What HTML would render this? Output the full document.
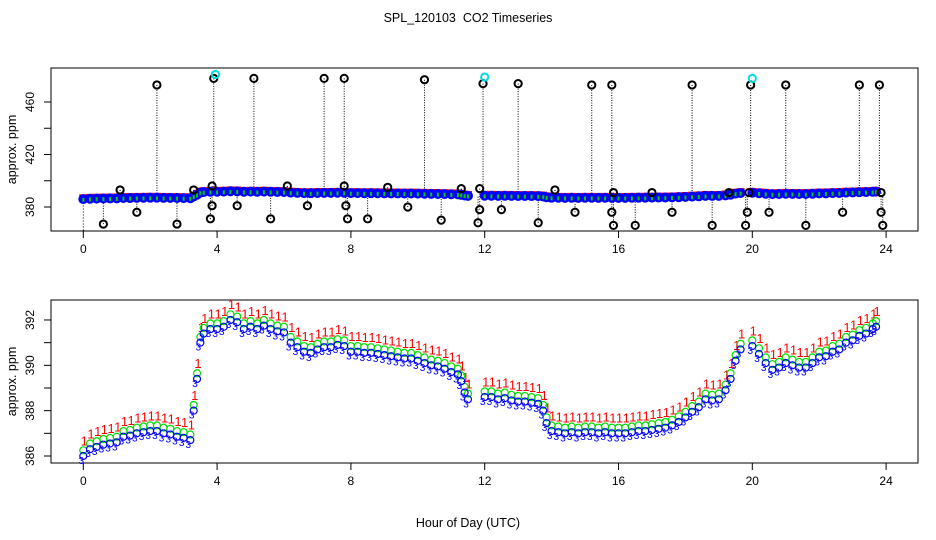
<!DOCTYPE html>
<html><head><meta charset="utf-8"><style>
html,body{margin:0;padding:0;background:#fff;}
svg{display:block;font-family:"Liberation Sans",sans-serif;}
text{white-space:pre;}
</style></head><body>
<svg id="c" width="936" height="540" viewBox="0 0 936 540">
<text x="468" y="22" text-anchor="middle" font-size="12.5" xml:space="preserve">SPL_120103  CO2 Timeseries</text>
<text x="468" y="527" text-anchor="middle" font-size="12.5">Hour of Day (UTC)</text>
<g id="topPanel"></g>
<g id="botPanel"></g>
</svg>
<script>
const times = [0,0.2,0.4,0.6,0.8,1.0,1.2,1.4,1.6,1.8,2.0,2.2,2.4,2.6,2.8,3.0,3.2,3.3,3.4,3.5,3.6,3.8,4.0,4.2,4.4,4.6,4.8,5.0,5.2,5.4,5.6,5.8,6.0,6.2,6.4,6.6,6.8,7.0,7.2,7.4,7.6,7.8,
8.0,8.2,8.4,8.6,8.8,9.0,9.2,9.4,9.6,9.8,10.0,10.2,10.4,10.6,10.8,11.0,11.2,11.3,11.4,11.5,
12.0,12.2,12.4,12.6,12.8,13.0,13.2,13.4,13.6,13.75,13.85,14.0,14.2,14.4,14.6,14.8,15.0,15.2,15.4,15.6,15.8,
16.0,16.2,16.4,16.6,16.8,17.0,17.2,17.4,17.6,17.8,18.0,18.2,18.4,18.6,18.8,19.0,19.2,19.35,19.5,19.65,
20.0,20.2,20.4,20.6,20.8,21.0,21.2,21.4,21.6,21.8,22.0,22.2,22.4,22.6,22.8,23.0,23.2,23.4,23.6,23.7];
const blueVals = [386.0,386.3,386.4,386.5,386.55,386.6,386.85,386.9,387.0,387.05,387.1,387.1,387.0,386.95,386.85,386.8,386.7,388.0,389.4,391.0,391.4,391.6,391.6,391.7,392.0,391.9,391.6,391.7,391.6,391.75,391.6,391.5,391.45,391.0,390.8,390.6,390.55,390.7,390.8,390.8,390.9,390.85,
390.6,390.6,390.55,390.55,390.5,390.45,390.4,390.35,390.3,390.3,390.2,390.1,390.0,389.95,389.85,389.7,389.6,389.3,388.8,388.5,
388.6,388.6,388.5,388.55,388.45,388.4,388.4,388.35,388.3,388.0,387.45,387.1,387.05,387.0,387.05,387.0,387.05,387.05,387.0,387.05,387.0,
387.0,387.0,387.05,387.1,387.1,387.15,387.2,387.25,387.35,387.5,387.7,387.95,388.15,388.5,388.45,388.5,388.9,389.4,390.2,390.7,
390.85,390.5,390.1,389.8,389.9,390.1,390.0,389.9,389.9,390.1,390.35,390.4,390.6,390.7,391.0,391.1,391.3,391.4,391.6,391.7];
const greenVals = [386.25,386.55,386.65,386.75,386.8,386.85,387.1,387.15,387.25,387.3,387.35,387.35,387.25,387.2,387.1,387.05,386.95,388.25,389.65,391.25,391.65,391.85,391.85,391.95,392.25,392.15,391.85,391.95,391.85,392.0,391.85,391.75,391.7,391.25,391.05,390.85,390.8,390.95,391.05,391.05,391.15,391.1,
390.85,390.85,390.8,390.8,390.75,390.7,390.65,390.6,390.55,390.55,390.45,390.35,390.25,390.2,390.1,389.95,389.85,389.55,389.05,388.75,
388.85,388.85,388.75,388.8,388.7,388.65,388.65,388.6,388.55,388.25,387.7,387.35,387.3,387.25,387.3,387.25,387.3,387.3,387.25,387.3,387.25,
387.25,387.25,387.3,387.35,387.35,387.4,387.45,387.5,387.6,387.75,387.95,388.2,388.4,388.75,388.7,388.75,389.15,389.65,390.45,390.95,
391.1,390.75,390.35,390.05,390.15,390.35,390.25,390.15,390.15,390.35,390.6,390.65,390.85,390.95,391.25,391.35,391.55,391.65,391.85,391.95];
const redVals = [386.65,386.95,387.05,387.15,387.2,387.25,387.5,387.55,387.65,387.7,387.75,387.75,387.65,387.6,387.5,387.45,387.35,388.65,390.05,391.65,392.05,392.25,392.25,392.35,392.65,392.55,392.25,392.35,392.25,392.4,392.25,392.15,392.1,391.65,391.45,391.25,391.2,391.35,391.45,391.45,391.55,391.5,
391.25,391.25,391.2,391.2,391.15,391.1,391.05,391.0,390.95,390.95,390.85,390.75,390.65,390.6,390.5,390.35,390.25,389.95,389.45,389.15,
389.25,389.25,389.15,389.2,389.1,389.05,389.05,389.0,388.95,388.65,388.1,387.75,387.7,387.65,387.7,387.65,387.7,387.7,387.65,387.7,387.65,
387.65,387.65,387.7,387.75,387.75,387.8,387.85,387.9,388.0,388.15,388.35,388.6,388.8,389.15,389.1,389.15,389.55,390.05,390.85,391.35,
391.5,391.15,390.75,390.45,390.55,390.75,390.65,390.55,390.55,390.75,391.0,391.05,391.25,391.35,391.65,391.75,391.95,392.05,392.25,392.35];
const outlierTimes = [0.6,1.1,1.6,2.2,2.8,3.3,3.8,3.85,3.85,3.9,4.6,5.1,5.6,6.1,6.7,7.2,7.8,7.8,7.85,7.9,8.5,9.1,9.7,10.2,10.7,11.3,11.8,11.85,11.85,11.95,12.5,13.0,13.6,14.1,14.7,15.2,15.8,15.8,15.85,15.85,16.5,17.0,17.6,18.2,18.8,19.3,19.8,19.85,19.9,19.95,20.5,21.0,21.6,22.7,23.2,23.8,23.85,23.85,23.9];
const outlierVals = [367,393,376,473,367,393,371,381,396,478,381,478,371,396,381,478,478,396,381,371,371,395,380,477,370,394,368,378,394,474,378,474,368,393,376,473,473,376,366,391,366,391,376,473,366,391,366,376,391,473,376,473,366,376,473,473,391,376,366];
const flagTimes = [3.95,12.0,20.0];
const flagVals = [481,479,478];
const xTicks = [0,4,8,12,16,20,24];
const topYTicks = [380,400,420,440,460];
const topYLabels = [380,420,460];
const botYTicks = [386,387,388,389,390,391,392];
const botYLabels = [386,388,390,392];

const NS='http://www.w3.org/2000/svg';
function mk(parent,tag,attrs){const e=document.createElementNS(NS,tag);for(const k in attrs)e.setAttribute(k,attrs[k]);parent.appendChild(e);return e;}
const X0=51,X1=918;
const xs=h=>83.3+h*33.45;
const topY=v=>207-(v-380)*1.3125;
const botY=v=>456-(v-386)*22.67;

function axes(g,y0,y1,yfn,yt,yl,nm){
  const r=mk(g,'rect',{x:X0,y:y0,width:X1-X0,height:y1-y0,fill:'none',stroke:'#000','stroke-width':1});
  
  
  xTicks.forEach(t=>{
    const l=mk(g,'line',{x1:xs(t),x2:xs(t),y1:y1,y2:y1+7,stroke:'#000'});
    
    
    const tx=mk(g,'text',{x:xs(t),y:y1+22,'text-anchor':'middle','font-size':12});
    tx.textContent=t;
    
    
  });
  yt.forEach(v=>{
    const l=mk(g,'line',{x1:X0-7,x2:X0,y1:yfn(v),y2:yfn(v),stroke:'#000'});
    
    
  });
  yl.forEach(v=>{
    const tx=mk(g,'text',{x:0,y:0,'text-anchor':'middle','font-size':12,transform:`translate(34,${yfn(v)}) rotate(-90)`});
    tx.textContent=v;
    
    
  });
  const yt2=mk(g,'text',{x:0,y:0,'text-anchor':'middle','font-size':12.5,transform:`translate(16,${(y0+y1)/2}) rotate(-90)`});
  yt2.textContent='approx. ppm';
  
  
}

// top panel
const topG=document.getElementById('topPanel');
axes(topG,68,231,topY,topYTicks,topYLabels,'top');
const dl=mk(topG,'line',{x1:xs(0),x2:xs(0),y1:topY(388),y2:231,stroke:'#000','stroke-dasharray':'1,2'});


outlierTimes.forEach((t,i)=>{
  const v=outlierVals[i];
  const l=mk(topG,'line',{x1:xs(t),x2:xs(t),y1:topY(v),y2:topY(389),stroke:'#000','stroke-dasharray':'1,1.5','stroke-width':1});
  
  
});
times.forEach((t,i)=>{
  const r=mk(topG,'rect',{x:xs(t)-4,y:topY(redVals[i])-4,width:8,height:3,fill:'#f00'});
  
  
});
times.forEach((t,i)=>{
  const c=mk(topG,'circle',{cx:xs(t),cy:topY(blueVals[i]),r:4,fill:'#00f',stroke:'#00f','stroke-width':2});
  
  
});
times.forEach((t,i)=>{
  const c=mk(topG,'rect',{x:xs(t)-1,y:topY(greenVals[i])-1,width:2,height:4,fill:'#0c0'});
  
  
});
outlierTimes.forEach((t,i)=>{
  const c=mk(topG,'circle',{cx:xs(t),cy:topY(outlierVals[i]),r:3.6,fill:'none',stroke:'#000','stroke-width':2});
  
  
});
flagTimes.forEach((t,i)=>{
  const c=mk(topG,'circle',{cx:xs(t),cy:topY(flagVals[i]),r:3.6,fill:'none',stroke:'#0dd','stroke-width':2});
  
  
});

// bottom panel
const botG=document.getElementById('botPanel');
axes(botG,300,463,botY,botYTicks,botYLabels,'bottom');
times.forEach((t,i)=>{
  const tx=mk(botG,'text',{x:xs(t)+1,y:botY(redVals[i])+4,'font-size':13,fill:'#f00','text-anchor':'middle'});
  tx.textContent='1';
  
  
});
times.forEach((t,i)=>{
  const c=mk(botG,'circle',{cx:xs(t),cy:botY(greenVals[i]),r:3.5,fill:'none',stroke:'#0d0','stroke-width':1.2});
  
  
});
times.forEach((t,i)=>{
  const c=mk(botG,'circle',{cx:xs(t),cy:botY(blueVals[i]),r:3.5,fill:'none',stroke:'#00f','stroke-width':1.2});
  
  
  const tx=mk(botG,'text',{x:xs(t)-2,y:botY(blueVals[i])+8,'font-size':10,fill:'#00f','text-anchor':'middle'});
  tx.textContent='3';
  
  
});
</script>
</body></html>
